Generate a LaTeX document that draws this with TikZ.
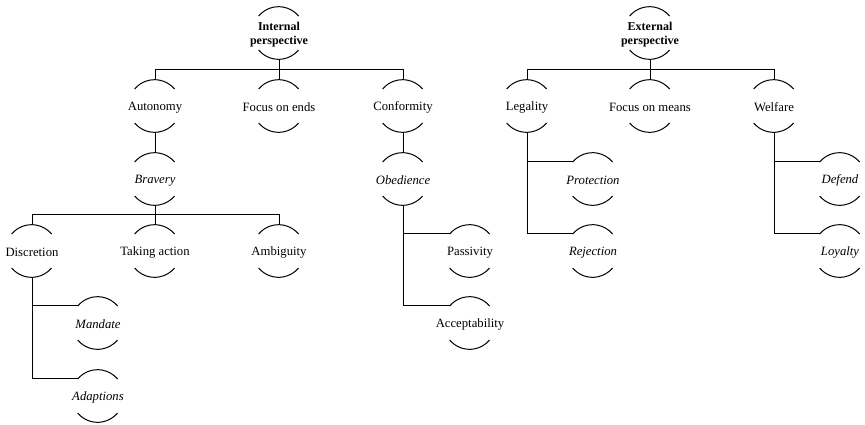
\documentclass[tikz,border=0pt]{standalone}
\usepackage{fontspec}
\setmainfont{Liberation Serif}
\begin{document}
\begin{tikzpicture}[x=1pt,y=-1pt, line width=1pt,
  ring/.style={circle, minimum size=52pt, inner sep=0pt},
  lab/.style={font=\fontsize{12.7}{14}\selectfont, inner sep=0pt, yshift=-1.5pt},
  labi/.style={font=\fontsize{12.7}{14}\selectfont\itshape, inner sep=0pt, yshift=-1.5pt},
  labb/.style={font=\fontsize{12}{14}\selectfont\bfseries, align=center, inner sep=0pt, yshift=-2pt}]
\useasboundingbox (0,0) rectangle (865,424);
% internal tree
\node[ring, label={[labb]center:{Internal\\perspective}}] (ip) at (279,33) {};
\node[ring, label={[lab]center:Autonomy}] (au) at (155,106) {};
\node[ring, label={[lab]center:Focus on ends}] (fe) at (279,106) {};
\node[ring, label={[lab]center:Conformity}] (co) at (403,106) {};
\node[ring, label={[labi]center:Bravery}] (br) at (155,179) {};
\node[ring, label={[labi]center:Obedience}] (ob) at (403,179) {};
\node[ring, label={[lab]center:Discretion}] (di) at (32,251) {};
\node[ring, label={[lab]center:Taking action}] (ta) at (155,251) {};
\node[ring, label={[lab]center:Ambiguity}] (am) at (279,251) {};
\node[ring, label={[labi]center:Mandate}] (ma) at (98,323) {};
\node[ring, label={[labi]center:Adaptions}] (ad) at (98,396) {};
\node[ring, label={[lab]center:Passivity}] (pa) at (470,251) {};
\node[ring, label={[lab]center:Acceptability}] (ac) at (470,323) {};
% external tree
\node[ring, label={[labb]center:{External\\perspective}}] (ep) at (650,33) {};
\node[ring, label={[lab]center:Legality}] (le) at (527,106) {};
\node[ring, label={[lab]center:Focus on means}] (fm) at (650,106) {};
\node[ring, label={[lab]center:Welfare}] (we) at (774,106) {};
\node[ring, label={[labi]center:Protection}] (pr) at (593,179) {};
\node[ring, label={[labi]center:Rejection}] (rj) at (593,251) {};
\node[ring, label={[labi]center:Defend}] (de) at (840,179) {};
\node[ring, label={[labi]center:Loyalty}] (lo) at (840,251) {};
% arcs
\foreach \n in {ip,au,fe,co,br,ob,di,ta,am,ma,ad,pa,ac,ep,le,fm,we,pr,rj,de,lo}{
  \draw (\n.140) arc[start angle=140, end angle=40, radius=26pt];
  \draw (\n.-140) arc[start angle=-140, end angle=-40, radius=26pt];
}
% connectors
\draw (ip.south) -- (fe.north);
\draw (au.north) -- ++(0,-10) -| (co.north);
\draw (au.south) -- (br.north);
\draw (co.south) -- (ob.north);
\draw (br.south) -- (ta.north);
\draw (di.north) -- ++(0,-10) -| (am.north);
\draw (di.south) |- (ad.140);
\draw (di.south |- ma.140) -- (ma.140);
\draw (ob.south) |- (ac.140);
\draw (ob.south |- pa.140) -- (pa.140);
\draw (ep.south) -- (fm.north);
\draw (le.north) -- ++(0,-10) -| (we.north);
\draw (le.south) |- (rj.140);
\draw (le.south |- pr.140) -- (pr.140);
\draw (we.south) |- (lo.140);
\draw (we.south |- de.140) -- (de.140);
\end{tikzpicture}
\end{document}
